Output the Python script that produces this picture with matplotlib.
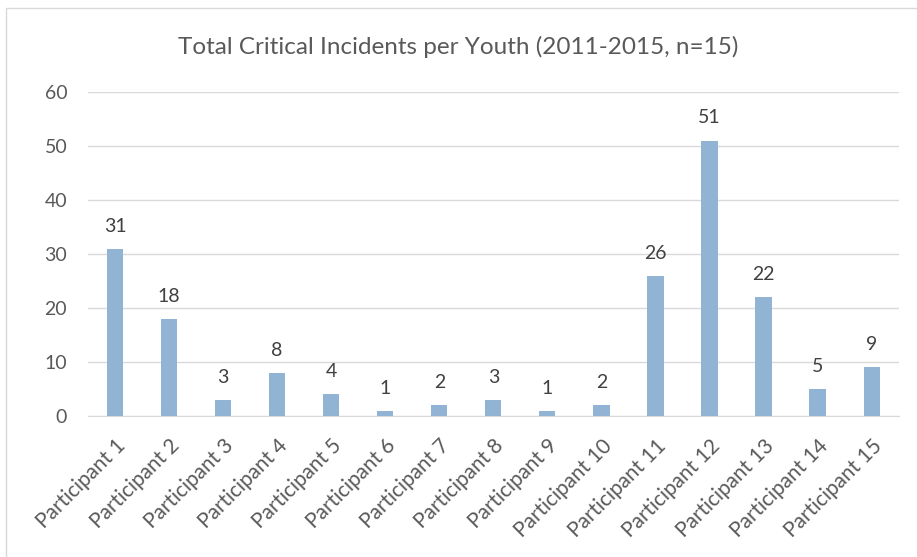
import matplotlib.pyplot as plt
from matplotlib.patches import Rectangle

# ==========================================
# DATA
# ==========================================
participants = [f"Participant {i}" for i in range(1, 16)]
incidents = [31, 18, 3, 8, 4, 1, 2, 3, 1, 2, 26, 51, 22, 5, 9]
y_ticks = [0, 10, 20, 30, 40, 50, 60]

TITLE = "Total Critical Incidents per Youth (2011-2015, n=15)"
BAR_COLOR = "#91B4D5"
TEXT_COLOR = "#595959"
GRID_COLOR = "#D9D9D9"

plt.rcParams["font.family"] = ["Lato", "DejaVu Sans"]

# ==========================================
# PLOT
# ==========================================
fig = plt.figure(figsize=(9.17, 5.57), dpi=100)
ax = fig.add_axes([0.096, 0.253, 0.884, 0.582])

# chart border
fig.patches.append(Rectangle((0.006, -0.01), 1.0, 0.996, transform=fig.transFigure,
                             fill=False, edgecolor="#D9D9D9", linewidth=1.0))

x = range(len(participants))
bars = ax.bar(x, incidents, width=0.3, color=BAR_COLOR, zorder=3)

for xi, v in zip(x, incidents):
    ax.text(xi, v + 2.6, str(v), ha="center", va="bottom",
            fontsize=14, color="#404040")

ax.set_xlim(-0.5, len(participants) - 0.5)
ax.set_ylim(0, 60)
ax.set_yticks(y_ticks)
ax.set_xticks(list(x))
ax.set_xticklabels(participants, rotation=45, ha="right", rotation_mode="anchor",
                   fontsize=15)

ax.grid(axis="y", color=GRID_COLOR, linewidth=1.0, zorder=0)
for s in ["top", "right", "left"]:
    ax.spines[s].set_visible(False)
ax.spines["bottom"].set_color(GRID_COLOR)
ax.tick_params(axis="both", length=0, colors=TEXT_COLOR)
ax.tick_params(axis="y", pad=15, labelsize=14)
ax.tick_params(axis="x", pad=14)

fig.text(0.5, 0.915, TITLE, ha="center", va="center", fontsize=17.5, color=TEXT_COLOR)

fig.savefig("out.png", dpi=100)
